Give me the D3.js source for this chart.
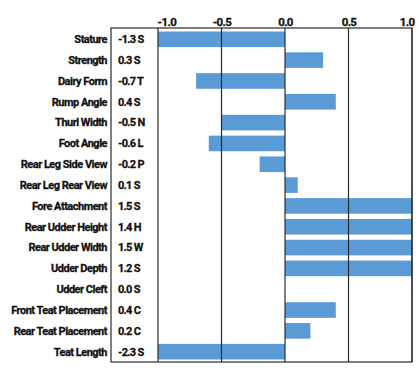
<!DOCTYPE html>
<html><head><meta charset="utf-8">
<script src="https://cdn.jsdelivr.net/npm/d3@7"></script>
<style>
body{margin:0;background:#fff;}
svg text{font-family:Roboto, "Liberation Sans", sans-serif;font-weight:700;fill:#111;stroke:#111;stroke-width:0.3px;}
</style></head>
<body><svg id="c" width="418" height="379"></svg>
<script>
const traits = ["Stature","Strength","Dairy Form","Rump Angle","Thurl Width","Foot Angle","Rear Leg Side View","Rear Leg Rear View","Fore Attachment","Rear Udder Height","Rear Udder Width","Udder Depth","Udder Cleft","Front Teat Placement","Rear Teat Placement","Teat Length"];
const values = [-1.3,0.3,-0.7,0.4,-0.5,-0.6,-0.2,0.1,1.5,1.4,1.5,1.2,0.0,0.4,0.2,-2.3];
const codes = ["S","S","T","S","N","L","P","S","S","H","W","S","S","C","C","S"];
const ticks = [-1.0,-0.5,0.0,0.5,1.0];

const svg = d3.select("#c");
const boxL = 111, boxTop = 28, boxBottom = 362;
const fmt = d3.formatLocale({decimal:".",thousands:",",grouping:[3],currency:["",""],minus:"-"}).format(".1f");
const x = d3.scaleLinear().domain([-1,1]).range([158,412]);
const y = d3.scaleBand().domain(traits).range([boxTop+1,boxBottom]).paddingInner(0.25).paddingOuter(0.12);

// bars
svg.append("g").selectAll("rect").data(traits).join("rect")
  .attr("x",(d,i)=>x(Math.min(0,Math.max(-1,values[i]))))
  .attr("width",(d,i)=>Math.abs(x(Math.max(-1,Math.min(1,values[i])))-x(0)))
  .attr("y",d=>y(d)).attr("height",y.bandwidth())
  .attr("fill","#5b9bd5");

// grid lines
svg.append("g").selectAll("line").data(ticks).join("line")
  .attr("x1",d=>x(d)).attr("x2",d=>x(d)).attr("y1",boxTop).attr("y2",boxBottom)
  .attr("stroke","#2a2a2a").attr("stroke-width",1.2);
// box
svg.append("rect").attr("x",boxL).attr("y",boxTop).attr("width",x(1)-boxL).attr("height",boxBottom-boxTop)
  .attr("fill","none").attr("stroke","#2a2a2a").attr("stroke-width",1.2);

// tick labels via axis
const ax = svg.append("g").attr("transform",`translate(0,${boxTop})`)
  .call(d3.axisTop(x).tickValues(ticks).tickFormat(fmt).tickSize(0).tickPadding(2));
ax.select(".domain").remove();
ax.selectAll("text").style("font-size","11.5px").attr("fill","#111").style("letter-spacing","-0.6px")
  .style("font-family","Roboto, sans-serif").style("font-weight","700")
  .attr("text-anchor",(d,i)=>i===0?"start":(i===ticks.length-1?"end":"middle"))
  .attr("dx",(d,i)=>i===0?"-1":(i===ticks.length-1?"2":"0"));

// trait labels
svg.append("g").selectAll("text").data(traits).join("text")
  .attr("x",107).attr("y",d=>y(d)+y.bandwidth()/2).attr("dy","0.35em")
  .attr("text-anchor","end").style("font-size","11px").style("letter-spacing","-0.5px")
  .text(d=>d);
// values
svg.append("g").selectAll("text").data(traits).join("text")
  .attr("x",118).attr("y",d=>y(d)+y.bandwidth()/2).attr("dy","0.35em")
  .style("font-size","11px").style("letter-spacing","-0.7px")
  .text((d,i)=>fmt(values[i])+" "+codes[i]);
</script></body></html>
